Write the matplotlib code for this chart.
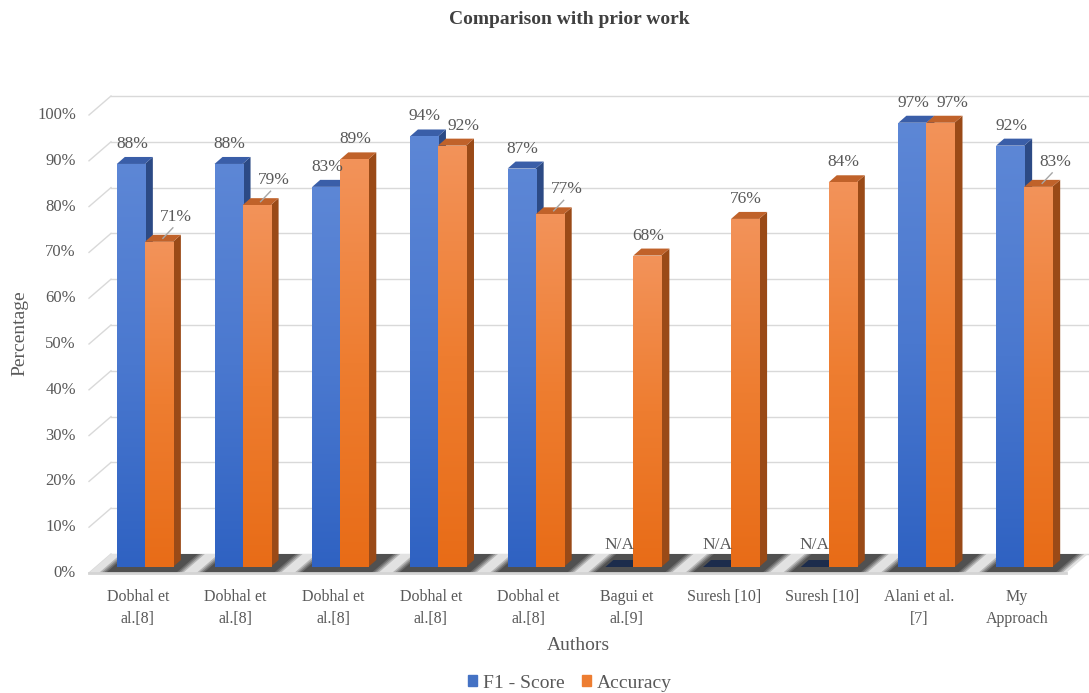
import numpy as np
import matplotlib
matplotlib.use("Agg")
import matplotlib.pyplot as plt
from matplotlib.patches import Polygon, Patch
from matplotlib.colors import LinearSegmentedColormap

plt.rcParams["font.family"] = ["Liberation Serif", "DejaVu Serif"]

authors = ["Dobhal et\nal.[8]", "Dobhal et\nal.[8]", "Dobhal et\nal.[8]", "Dobhal et\nal.[8]",
           "Dobhal et\nal.[8]", "Bagui et\nal.[9]", "Suresh [10]", "Suresh [10]",
           "Alani et al.\n[7]", "My\nApproach"]
f1_score = [88, 88, 83, 94, 87, np.nan, np.nan, np.nan, 97, 92]
accuracy = [71, 79, 89, 92, 77, 68, 76, 84, 97, 83]
y_ticks = list(range(0, 101, 10))

W, H = 1089, 693
PX, PY = 97.7, 4.58  # pixels per category / per percent


def dx(p):
    return p / PX


def dy(p):
    return p / PY


fig = plt.figure(figsize=(W / 100, H / 100), dpi=100)
ax = fig.add_axes([96 / W, (H - 567) / H, 977 / W, 458 / H])
ax.axis("off")

TXT = "#595959"
GRID = "#d9d9d9"
DX, DY = dx(8), dy(7)        # bar depth
FX, FY = dx(-7), dy(-6)      # front wall offset
BX, BY = dx(15), dy(13)      # back wall offset
left, right = -0.5, 9.5

# walls / gridlines
for v in y_ticks:
    ax.plot([left + BX, right + BX], [v + BY, v + BY], color=GRID, lw=1, zorder=1, clip_on=False)
    ax.plot([left + FX, left + BX], [v + FY, v + BY], color=GRID, lw=1, zorder=1, clip_on=False)
    ax.text(left + dx(76 - 96), v + FY, f"{v}%", ha="right", va="center",
            fontsize=12, color=TXT)

# floor with soft shadows under each group
floor = Polygon([(left + FX, FY), (right + FX, FY), (right + BX, BY), (left + BX, BY)],
                closed=True, facecolor="#e2e2e2", edgecolor="none", zorder=1.5, clip_on=False)
ax.add_patch(floor)

w = 0.287
for i in range(len(authors)):
    gl, gr = i - w - dx(4), i + w + DX + dx(2)
    for k, a in enumerate([0.22, 0.25, 0.3, 0.35]):
        e = dx(7 - 2.3 * k)
        poly = Polygon([(gl - e + FX, FY), (gr + e + FX, FY), (gr + e + BX, BY), (gl - e + BX, BY)],
                       closed=True, facecolor="#1e1e1e", edgecolor="none", alpha=a, zorder=1.6, clip_on=False)
        ax.add_patch(poly)
ax.plot([left + FX, right + FX], [FY, FY], color="#d4d4d4", lw=2, zorder=1.7, clip_on=False)

blue_cmap = LinearSegmentedColormap.from_list("b", ["#2f62c2", "#4a78cf", "#5d87d6"])
orange_cmap = LinearSegmentedColormap.from_list("o", ["#e86c17", "#ee7d30", "#f3935a"])
grad = np.linspace(1, 0, 256).reshape(-1, 1)

series = [
    (f1_score, -w, "#4472c4", blue_cmap, "#2c4a85", "#3a5ea8"),
    (accuracy, 0, "#ed7d31", orange_cmap, "#9a4a17", "#c0622a"),
]
x = np.arange(len(authors))
for s, (vals, off, col, cmap, side_c, top_c) in enumerate(series):
    z = 3 + 2 * s
    heights = [0 if np.isnan(v) else v for v in vals]
    bars = ax.bar(x + off, heights, w, align="edge", color=col, zorder=z + 1)
    for xi, bar, v in zip(x, bars, vals):
        x0, x1 = bar.get_x(), bar.get_x() + bar.get_width()
        if np.isnan(v):
            ax.add_patch(Polygon([(x0, 0), (x1, 0), (x1 + DX, DY), (x0 + DX, DY)],
                                 facecolor="#1c2c4c", edgecolor="none", zorder=z + 1))
            ax.text((x0 + x1) / 2, dy(22), "N/A", ha="center", va="center", fontsize=12.5,
                    color=TXT, zorder=10)
            continue
        h = v
        im = ax.imshow(grad, cmap=cmap, extent=(x0, x1, 0, h), aspect="auto", zorder=z + 1.1)
        im.set_clip_path(bar)
        ax.add_patch(Polygon([(x1, 0), (x1 + DX, DY), (x1 + DX, h + DY), (x1, h)],
                             facecolor=side_c, edgecolor="none", zorder=z))
        ax.add_patch(Polygon([(x0, h), (x1, h), (x1 + DX, h + DY), (x0 + DX, h + DY)],
                             facecolor=top_c, edgecolor="none", zorder=z))
        cx = (x0 + x1) / 2
        lx = cx + dx(1)
        ly = h + DY + dy(13)
        # orange labels sitting under a taller (or equal) blue bar get nudged right
        if s == 1 and not np.isnan(f1_score[xi]) and f1_score[xi] >= v:
            if f1_score[xi] - v > 3:
                lx += dx(16)
                ly += dy(5)
                ax.plot([cx + DX / 2, lx - dx(3)], [h + DY / 2, ly - dy(11)],
                        color="#a6a6a6", lw=1, zorder=10)
            else:
                lx += dx(11)
        ax.text(lx, ly, f"{v:.0f}%", ha="center", va="center", fontsize=12.5, color=TXT, zorder=10)

for xi, lab in zip(x, authors):
    ax.text(xi - dx(7), -dy(22), lab, ha="center", va="top", fontsize=11.5,
            color=TXT, linespacing=1.5)

ax.set_xlim(left, right)
ax.set_ylim(0, 100)

fig.text(569 / W, 1 - 20 / H, "Comparison with prior work", ha="center", va="center",
         fontsize=14, fontweight="bold", color="#404040")
fig.text(578 / W, 1 - 645 / H, "Authors", ha="center", va="center", fontsize=14, color=TXT)
fig.text(20 / W, 1 - 333 / H, "Percentage", ha="center", va="center", rotation=90,
         fontsize=14, color=TXT)

handles = [Patch(color="#4472c4", label="F1 - Score"), Patch(color="#ed7d31", label="Accuracy")]
fig.legend(handles=handles, loc="center", bbox_to_anchor=(570 / W, 1 - 683 / H), ncol=2,
           frameon=False, fontsize=14, handlelength=0.45, handleheight=0.45,
           handletextpad=0.3, columnspacing=0.9, labelcolor=TXT)

fig.savefig("out.png", dpi=100)
